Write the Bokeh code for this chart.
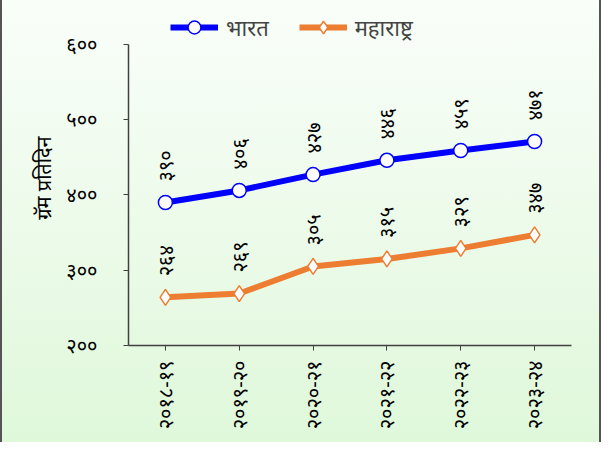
import math
from bokeh.plotting import figure
from bokeh.models import ColumnDataSource, Legend, LegendItem, FixedTicker, LabelSet
from bokeh.embed import file_html
from bokeh.resources import INLINE
from bokeh.core.properties import value

# ---- data ----
years = ["२०१८-१९", "२०१९-२०", "२०२०-२१", "२०२१-२२", "२०२२-२३", "२०२३-२४"]
india = [390, 406, 427, 446, 459, 471]
maharashtra = [264, 269, 305, 315, 329, 347]
series_names = ["भारत", "महाराष्ट्र"]
y_ticks = [200, 300, 400, 500, 600]
y_title = "ग्रॅम प्रतिदिन"

DEV = str.maketrans("0123456789", "०१२३४५६७८९")


def dev(n):
    return str(n).translate(DEV)


FONT = "Noto Sans"
BLUE = "#0000FF"
ORANGE = "#ED7D31"

src = ColumnDataSource(dict(
    x=years,
    india=india,
    mh=maharashtra,
    india_lbl=[dev(v) for v in india],
    mh_lbl=[dev(v) for v in maharashtra],
))

# frame extends above the 600 line to leave room for the legend
p = figure(
    width=601, height=442,
    x_range=years, y_range=(200, 645),
    output_backend="svg", toolbar_location=None,
    min_border_left=128, min_border_right=30,
    min_border_top=10, min_border_bottom=97,
)
p.styles = {
    "background": "linear-gradient(to bottom, #F9FEF9 0%, #EEFBEC 45%, #DFF8DA 100%)",
    "box-shadow": "inset 2px 0 0 #555555, inset -2px 0 0 #555555",
}
p.background_fill_alpha = 0
p.border_fill_alpha = 0
p.outline_line_color = None
p.grid.visible = False

# axes
p.yaxis.ticker = FixedTicker(ticks=y_ticks)
p.yaxis.bounds = (y_ticks[0], y_ticks[-1])
p.yaxis.major_label_overrides = {t: dev(t) for t in y_ticks}
p.yaxis.axis_label = y_title
p.yaxis.axis_label_text_font = FONT
p.yaxis.axis_label_text_font_style = "normal"
p.yaxis.axis_label_text_font_size = "20px"
p.yaxis.axis_label_text_color = "#000000"
p.yaxis.axis_label_standoff = 6
p.yaxis.major_label_standoff = 26
p.yaxis.minor_tick_line_color = None

for ax in (p.xaxis, p.yaxis):
    ax.axis_line_color = "#404040"
    ax.axis_line_width = 1.5
    ax.major_tick_line_color = "#404040"
    ax.major_tick_in = 0
    ax.major_tick_out = 5
    ax.major_label_text_font = FONT
    ax.major_label_text_font_size = "20px"
    ax.major_label_text_color = "#000000"

p.xaxis.major_label_orientation = math.pi / 2
p.xaxis.major_label_standoff = 10

# lines & markers
l1 = p.line("x", "india", source=src, line_color=BLUE, line_width=6)
s1 = p.scatter("x", "india", source=src, marker="circle", size=14,
               fill_color="white", line_color=BLUE, line_width=1.5)
l2 = p.line("x", "mh", source=src, line_color=ORANGE, line_width=6)
s2 = p.scatter("x", "mh", source=src, marker="diamond", size=16,
               fill_color="white", line_color=ORANGE, line_width=1.5)

# data labels
for col in ("india", "mh"):
    lbl = LabelSet(x="x", y=col, text=col + "_lbl", source=src,
                   angle=math.pi / 2, text_align="left", text_baseline="middle",
                   y_offset=21, text_font=value(FONT), text_font_size="20px",
                   text_color="#000000")
    p.add_layout(lbl)

legend = Legend(
    items=[LegendItem(label=series_names[0], renderers=[l1, s1]),
           LegendItem(label=series_names[1], renderers=[l2, s2])],
    orientation="horizontal",
    location=(42, 302),
    background_fill_alpha=0, border_line_color=None,
    label_text_font=FONT, label_text_font_size="22px",
    glyph_width=48, glyph_height=32, label_height=32, spacing=30,
    padding=0, margin=0, label_standoff=8,
)
p.add_layout(legend, "center")

open("out.html", "w").write(file_html(p, INLINE))
